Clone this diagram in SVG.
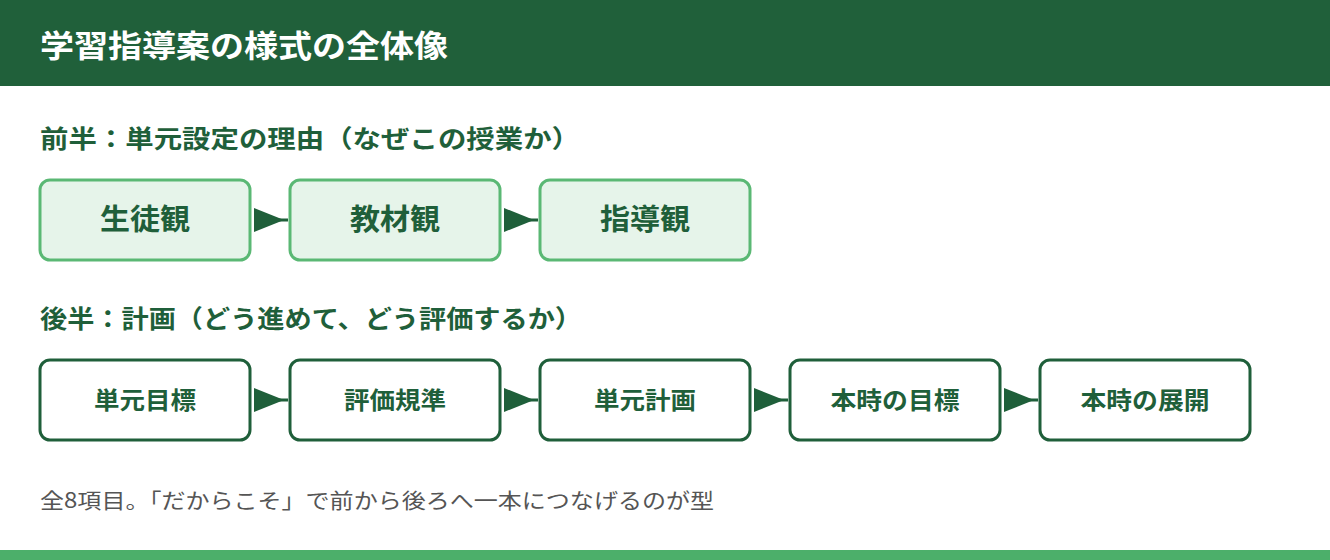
<svg xmlns="http://www.w3.org/2000/svg" width="1330" height="560" viewBox="0 0 1330 560">
<style>
text{font-family:"Noto Sans CJK JP","Liberation Sans",sans-serif}
.t{font-weight:bold;fill:#1f5f3a;text-anchor:middle}
.a{fill:#1f5f3a}
.l{stroke:#1f5f3a;stroke-width:3}
.g rect{fill:#e6f4ea;stroke:#5ab874;stroke-width:3}
.w rect{fill:#fff;stroke:#1f5f3a;stroke-width:3}
</style>
<rect x="0" y="0" width="1330" height="86" fill="#20603a"/>
<text x="40" y="57" font-size="31" font-weight="bold" fill="#fff" textLength="408" lengthAdjust="spacingAndGlyphs">学習指導案の様式の全体像</text>
<text x="40" y="148" font-size="25" font-weight="bold" fill="#1f5f3a" textLength="540" lengthAdjust="spacingAndGlyphs">前半：単元設定の理由（なぜこの授業か）</text>
<text x="40" y="328" font-size="25" font-weight="bold" fill="#1f5f3a" textLength="542" lengthAdjust="spacingAndGlyphs">後半：計画（どう進めて、どう評価するか）</text>
<g id="n1" class="g"><rect x="40" y="180" width="210" height="80" rx="10"/><text class="t" x="145" y="230" font-size="29" textLength="90" lengthAdjust="spacingAndGlyphs">生徒観</text></g>
<g id="n2" class="g"><rect x="290" y="180" width="210" height="80" rx="10"/><text class="t" x="395" y="230" font-size="29" textLength="90" lengthAdjust="spacingAndGlyphs">教材観</text></g>
<g id="n3" class="g"><rect x="540" y="180" width="210" height="80" rx="10"/><text class="t" x="645" y="230" font-size="29" textLength="90" lengthAdjust="spacingAndGlyphs">指導観</text></g>
<g id="n4" class="w"><rect x="40" y="360" width="210" height="80" rx="10"/><text class="t" x="145" y="409" font-size="24" textLength="102" lengthAdjust="spacingAndGlyphs">単元目標</text></g>
<g id="n5" class="w"><rect x="290" y="360" width="210" height="80" rx="10"/><text class="t" x="395" y="409" font-size="24" textLength="102" lengthAdjust="spacingAndGlyphs">評価規準</text></g>
<g id="n6" class="w"><rect x="540" y="360" width="210" height="80" rx="10"/><text class="t" x="645" y="409" font-size="24" textLength="102" lengthAdjust="spacingAndGlyphs">単元計画</text></g>
<g id="n7" class="w"><rect x="790" y="360" width="210" height="80" rx="10"/><text class="t" x="895" y="409" font-size="24" textLength="129" lengthAdjust="spacingAndGlyphs">本時の目標</text></g>
<g id="n8" class="w"><rect x="1040" y="360" width="210" height="80" rx="10"/><text class="t" x="1145" y="409" font-size="24" textLength="129" lengthAdjust="spacingAndGlyphs">本時の展開</text></g>
<g id="connectors">
<line class="l" x1="254" y1="220" x2="288" y2="220"/><polygon class="a" points="254,208 284,220 254,232"/>
<line class="l" x1="504" y1="220" x2="538" y2="220"/><polygon class="a" points="504,208 534,220 504,232"/>
<line class="l" x1="254" y1="400" x2="288" y2="400"/><polygon class="a" points="254,388 284,400 254,412"/>
<line class="l" x1="504" y1="400" x2="538" y2="400"/><polygon class="a" points="504,388 534,400 504,412"/>
<line class="l" x1="754" y1="400" x2="788" y2="400"/><polygon class="a" points="754,388 784,400 754,412"/>
<line class="l" x1="1004" y1="400" x2="1038" y2="400"/><polygon class="a" points="1004,388 1034,400 1004,412"/>
</g>
<text x="40" y="508" font-size="21" fill="#555" textLength="674" lengthAdjust="spacingAndGlyphs">全8項目。「だからこそ」で前から後ろへ一本につなげるのが型</text>
<rect x="0" y="550" width="1330" height="10" fill="#4caf6a"/>
</svg>
